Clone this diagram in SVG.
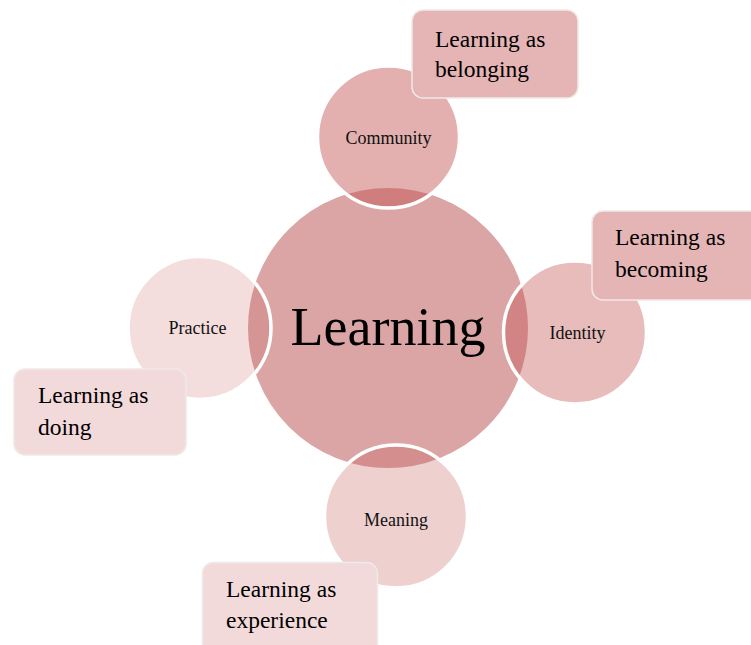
<svg xmlns="http://www.w3.org/2000/svg" width="751" height="645" viewBox="0 0 751 645">
<style>
.sat{stroke:#ffffff;stroke-width:3.5}
.lbl{font-family:"Liberation Serif","Times New Roman",serif;fill:#111;text-anchor:middle;font-size:18px}
.box{stroke:#efe9e9;stroke-width:1.5}
.bt{font-family:"Liberation Serif","Times New Roman",serif;fill:#000;font-size:23.5px}
</style>
<rect width="751" height="645" fill="#ffffff"/>
<g id="learning">
<circle cx="388" cy="328" r="141" fill="#dba5a5" stroke="#ffffff" stroke-width="2"/>
<text x="388" y="345" font-family="Liberation Serif, Times New Roman, serif" font-size="54" text-anchor="middle" fill="#000">Learning</text>
</g>
<g id="connectors"></g>
<g id="community">
<circle class="sat" cx="388.5" cy="137" r="71" fill="#c0504d" fill-opacity="0.45"/>
<text class="lbl" x="388.5" y="143.5">Community</text>
</g>
<g id="identity">
<circle class="sat" cx="575" cy="332.5" r="71.5" fill="#c0504d" fill-opacity="0.38"/>
<text class="lbl" x="577.5" y="338.5">Identity</text>
</g>
<g id="meaning">
<circle class="sat" cx="396" cy="516.5" r="71.5" fill="#c0504d" fill-opacity="0.27"/>
<text class="lbl" x="396" y="526">Meaning</text>
</g>
<g id="practice">
<circle class="sat" cx="199.5" cy="328" r="71.5" fill="#c0504d" fill-opacity="0.19"/>
<text class="lbl" x="197.5" y="334">Practice</text>
</g>
<g id="box-belonging">
<rect class="box" x="412" y="10" width="166" height="88" rx="11" fill="#e5b5b5"/>
<text class="bt" x="435" y="47">Learning as</text>
<text class="bt" x="435" y="77">belonging</text>
</g>
<g id="box-becoming">
<rect class="box" x="592" y="211" width="172" height="89" rx="11" fill="#e5b5b5"/>
<text class="bt" x="615" y="245">Learning as</text>
<text class="bt" x="615" y="277">becoming</text>
</g>
<g id="box-doing">
<rect class="box" x="14" y="369" width="172" height="86" rx="11" fill="#f2dadb"/>
<text class="bt" x="38" y="403">Learning as</text>
<text class="bt" x="38" y="435">doing</text>
</g>
<g id="box-experience">
<rect class="box" x="202.5" y="562.5" width="175" height="95" rx="11" fill="#f2dadb"/>
<text class="bt" x="226" y="597">Learning as</text>
<text class="bt" x="226" y="628">experience</text>
</g>
</svg>
